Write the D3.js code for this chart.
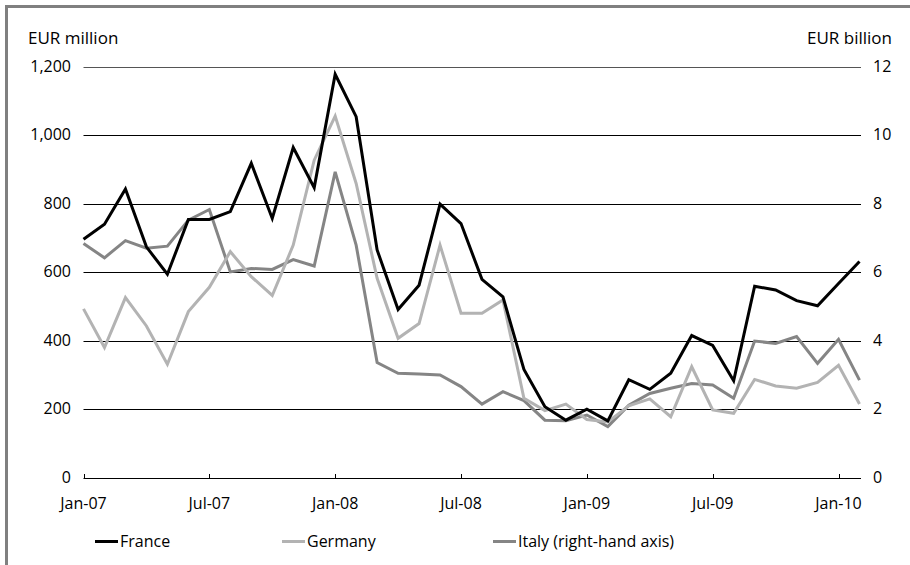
<!DOCTYPE html>
<html><head><meta charset="utf-8">
<script src="https://cdn.jsdelivr.net/npm/d3@7"></script>
<style>
html,body{margin:0;padding:0;background:#fff;}
svg{display:block;}
text{font-family:"Open Sans",sans-serif;fill:#000;}
</style></head>
<body>
<svg id="chart" width="910" height="565"></svg>
<script>
// Monthly data, Jan-07 .. Feb-10
const months = ["Jan-07","Feb-07","Mar-07","Apr-07","May-07","Jun-07","Jul-07","Aug-07","Sep-07","Oct-07","Nov-07","Dec-07",
"Jan-08","Feb-08","Mar-08","Apr-08","May-08","Jun-08","Jul-08","Aug-08","Sep-08","Oct-08","Nov-08","Dec-08",
"Jan-09","Feb-09","Mar-09","Apr-09","May-09","Jun-09","Jul-09","Aug-09","Sep-09","Oct-09","Nov-09","Dec-09",
"Jan-10","Feb-10"];
const france = [696,740,843,674,594,754,754,777,918,757,964,847,
1178,1054,665,491,562,799,742,579,528,316,207,168,
200,166,286,258,305,415,386,283,559,548,517,502,567,631];
const germany = [493,380,526,443,331,485,556,660,587,532,679,927,
1056,859,582,407,450,679,480,480,519,232,196,215,
170,163,210,230,178,324,198,188,287,268,261,278,328,215];
const italy = [6.84,6.42,6.92,6.70,6.76,7.52,7.83,6.01,6.11,6.08,6.37,6.18,
8.93,6.79,3.36,3.05,3.03,3.00,2.66,2.15,2.51,2.25,1.68,1.66,
1.83,1.49,2.12,2.46,2.61,2.75,2.71,2.32,3.99,3.92,4.12,3.34,4.04,2.85];
const xTickIdx = [0,6,12,18,24,30,36];
const xTickLabels = ["Jan-07","Jul-07","Jan-08","Jul-08","Jan-09","Jul-09","Jan-10"];
const leftTicks = [0,200,400,600,800,1000,1200];
const rightTicks = [0,2,4,6,8,10,12];
const seriesNames = ["France","Germany","Italy (right-hand axis)"];
const seriesColors = ["#000000","#b3b3b3","#858585"];

const FS = 16;
const svg = d3.select("#chart");
const x0 = 83.5, x1 = 859.5, axisEnd = 861;
const yTop = 66.7, yBot = 477.7;
const x = d3.scaleLinear().domain([0, months.length - 1]).range([x0, x1]);
const yL = d3.scaleLinear().domain([0, 1200]).range([yBot, yTop]);
const yR = d3.scaleLinear().domain([0, 12]).range([yBot, yTop]);

// frame
svg.append("line").attr("x1",6.5).attr("x2",6.5).attr("y1",5).attr("y2",565).attr("stroke","#808080").attr("stroke-width",3);
svg.append("line").attr("x1",5).attr("x2",910).attr("y1",6.5).attr("y2",6.5).attr("stroke","#808080").attr("stroke-width",3);

// gridlines
svg.append("g").selectAll("line").data(leftTicks.filter(d=>d>0)).join("line")
  .attr("x1", x0).attr("x2", axisEnd)
  .attr("y1", d=>Math.round(yL(d))+0.5).attr("y2", d=>Math.round(yL(d))+0.5)
  .attr("stroke", d=> d===1200 ? "#555" : "#000").attr("stroke-width",1);

// left tick labels
svg.append("g").selectAll("text").data(leftTicks).join("text")
  .attr("x", 71).attr("y", d=>yL(d)).attr("dy","0.33em")
  .attr("text-anchor","end").attr("font-size",FS)
  .text(d=>d3.format(",")(d));
// right tick labels
svg.append("g").selectAll("text").data(rightTicks).join("text")
  .attr("x", 873).attr("y", d=>yR(d)).attr("dy","0.33em")
  .attr("text-anchor","start").attr("font-size",FS)
  .text(d=>d);

// axis titles
svg.append("text").attr("x",28).attr("y",44).attr("font-size",FS+1).text("EUR million");
svg.append("text").attr("x",892).attr("y",44).attr("font-size",FS+1).attr("text-anchor","end").text("EUR billion");

// x axis
const xa = svg.append("g");
xa.append("line").attr("x1",x0).attr("x2",axisEnd).attr("y1",Math.round(yBot)+0.5).attr("y2",Math.round(yBot)+0.5).attr("stroke","#000");
xa.selectAll("line.tk").data(xTickIdx).join("line").attr("class","tk")
  .attr("x1",d=>Math.round(x(d))+0.5).attr("x2",d=>Math.round(x(d))+0.5)
  .attr("y1",Math.round(yBot)-4).attr("y2",Math.round(yBot)+0.5).attr("stroke","#000");
xa.selectAll("text").data(xTickIdx).join("text")
  .attr("x",d=>x(d)).attr("y",509).attr("text-anchor","middle").attr("font-size",FS)
  .text((d,i)=>xTickLabels[i]);

// lines
const lineL = d3.line().x((d,i)=>x(i)).y(d=>yL(d));
const lineR = d3.line().x((d,i)=>x(i)).y(d=>yR(d));
svg.append("path").datum(italy).attr("d",lineR).attr("fill","none").attr("stroke",seriesColors[2]).attr("stroke-width",3).attr("stroke-linejoin","miter");
svg.append("path").datum(germany).attr("d",lineL).attr("fill","none").attr("stroke",seriesColors[1]).attr("stroke-width",3).attr("stroke-linejoin","miter");
svg.append("path").datum(france).attr("d",lineL).attr("fill","none").attr("stroke",seriesColors[0]).attr("stroke-width",3).attr("stroke-linejoin","miter");

// legend
const legX = [95, 282, 493];
const leg = svg.append("g");
seriesNames.forEach((n,i)=>{
  leg.append("line").attr("x1",legX[i]).attr("x2",legX[i]+23).attr("y1",541.5).attr("y2",541.5)
    .attr("stroke",seriesColors[i]).attr("stroke-width",3);
  leg.append("text").attr("x",legX[i]+25).attr("y",541.5).attr("dy","0.35em").attr("font-size",FS).text(n);
});
</script>
</body></html>
